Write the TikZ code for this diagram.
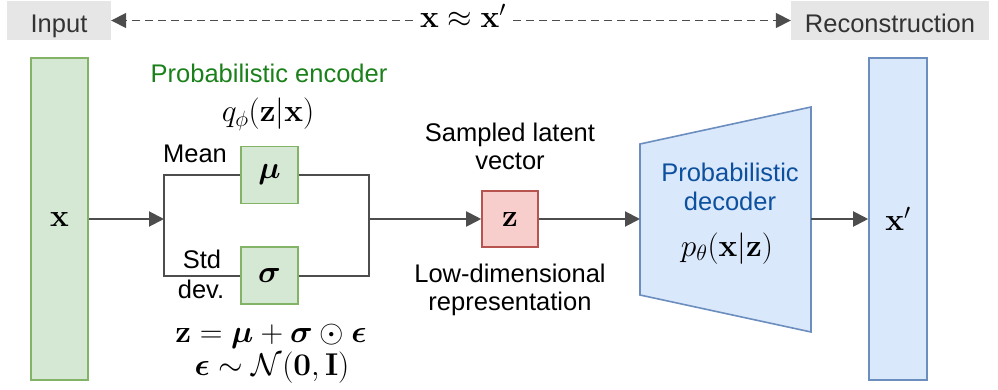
\documentclass[tikz,border=0pt]{standalone}
\usepackage{fix-cm}
\usepackage[no-math]{fontspec}
\usepackage{bm}
\setmainfont{Liberation Sans}
\usetikzlibrary{arrows.meta}

\definecolor{linegray}{RGB}{77,77,77}
\definecolor{textgray}{RGB}{51,51,51}
\definecolor{tagfill}{RGB}{230,230,230}
\definecolor{gfill}{HTML}{D5E8D4}
\definecolor{gedge}{HTML}{82B366}
\definecolor{rfill}{HTML}{F8CECC}
\definecolor{redge}{HTML}{B85450}
\definecolor{bfill}{HTML}{DAE8FC}
\definecolor{bedge}{HTML}{6C8EBF}
\definecolor{encgreen}{RGB}{26,128,26}
\definecolor{decblue}{RGB}{12,80,158}

\begin{document}
\begin{tikzpicture}[x=1pt,y=-1pt,
  txt/.style={font=\fontsize{25.5}{29}\selectfont, inner sep=0pt, anchor=base},
  mth/.style={font=\fontsize{31.5}{36}\selectfont, inner sep=0pt, anchor=base},
  inmath/.style={font=\fontsize{31.5}{36}\selectfont},
  tagbox/.style={fill=tagfill, draw=none, inner sep=0pt},
  greenbox/.style={draw=gedge, fill=gfill, line width=1.6pt, inner sep=0pt, inmath},
  redbox/.style={draw=redge, fill=rfill, line width=1.6pt, inner sep=0pt, inmath},
  bluebox/.style={draw=bedge, fill=bfill, line width=1.6pt, inner sep=0pt, inmath},
  wire/.style={draw=linegray, line width=2pt},
  arr/.style={wire, -{Triangle[length=15pt,width=15pt]}},
  dasharr/.style={draw=linegray, line width=1.6pt, dash pattern=on 8pt off 5pt,
    -{Triangle[length=15pt,width=15pt]}}
]
\useasboundingbox (0,0) rectangle (998,390);

% top tags and the reconstruction target
\node[tagbox, minimum width=104pt, minimum height=39pt] (input) at (59,20.5) {};
\node[txt, text=textgray] (inputlbl) at (59,33) {Input};
\node[tagbox, minimum width=198pt, minimum height=39pt] (recon) at (890,20.5) {};
\node[txt, text=textgray] (reconlbl) at (890,33) {Reconstruction};
\node[mth, inner xsep=7pt] (approx) at (463,28) {$\mathbf{x}\approx\mathbf{x}'$};
\draw[dasharr] (approx.west |- input.east) -- (input.east);
\draw[dasharr] (approx.east |- recon.west) -- (recon.west);

% input and output vectors
\node[greenbox, minimum width=57pt, minimum height=322pt] (xin) at (59.5,219) {$\mathbf{x}$};
\node[bluebox, minimum width=58pt, minimum height=322pt] (xout) at (898,219) {$\mathbf{x}'$};

% encoder
\node[txt, text=encgreen] (enclbl) at (269,83) {Probabilistic encoder};
\node[mth] (qlbl) at (268,122) {$q_\phi(\mathbf{z}|\mathbf{x})$};
\node[greenbox, minimum size=57pt] (mu) at (269.5,175) {$\bm{\mu}$};
\node[greenbox, minimum size=57pt] (sigma) at (269.5,275.5) {$\bm{\sigma}$};
\node[txt] (meanlbl) at (195,163) {Mean};
\node[txt] (stdlbl) at (202,268) {Std};
\node[txt] (devlbl) at (201,298) {dev.};
\node[mth] (reparam) at (271,342) {$\mathbf{z}=\bm{\mu}+\bm{\sigma}\odot\bm{\epsilon}$};
\node[mth] (noise) at (272,375) {$\bm{\epsilon}\sim\mathcal{N}(\mathbf{0},\mathbf{I})$};

\coordinate (split) at (164,219);
\coordinate (join) at (369,219);

% latent code
\node[redbox, minimum size=56pt] (z) at (510,219) {$\mathbf{z}$};
\node[txt] (samp1) at (510,142) {Sampled latent};
\node[txt] (samp2) at (510,170) {vector};
\node[txt] (low1) at (510,282) {Low-dimensional};
\node[txt] (low2) at (510,310) {representation};

% decoder
\coordinate (dtl) at (640,144);
\coordinate (dtr) at (811,107);
\coordinate (dbr) at (811,332);
\coordinate (dbl) at (640,295);
\coordinate (decin) at (640,219);
\coordinate (decout) at (811,219);
\draw[draw=bedge, fill=bfill, line width=1.6pt] (dtl) -- (dtr) -- (dbr) -- (dbl) -- cycle;
\node[txt, text=decblue] (dec1) at (730,182) {Probabilistic};
\node[txt, text=decblue] (dec2) at (730,211) {decoder};
\node[mth] (plbl) at (727,256) {$p_\theta(\mathbf{x}|\mathbf{z})$};

% connectors
\draw[arr] (xin.east) -- (split);
\draw[wire] (mu.west) -| (split) |- (sigma.west);
\draw[wire] (mu.east) -| (join) |- (sigma.east);
\draw[arr] (join) -- (z.west);
\draw[arr] (z.east) -- (decin);
\draw[arr] (decout) -- (xout.west);
\end{tikzpicture}
\end{document}
